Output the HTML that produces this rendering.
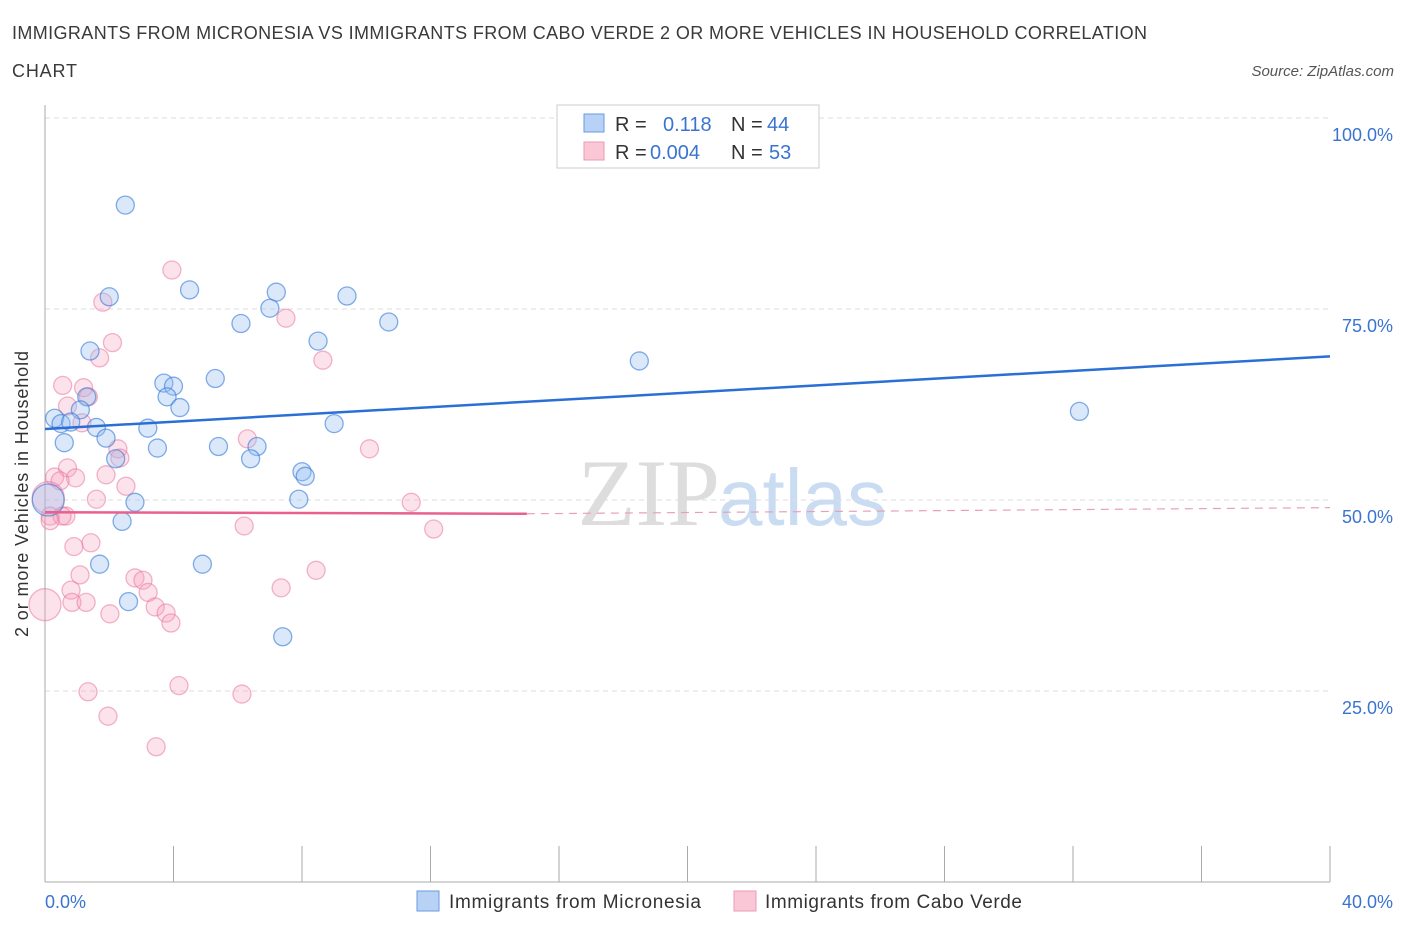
<!DOCTYPE html>
<html><head><meta charset="utf-8"><style>
body{margin:0;background:#fff;font-family:"Liberation Sans",sans-serif;}
</style></head><body>
<svg width="1406" height="930" xmlns="http://www.w3.org/2000/svg">
<text x="12" y="39" font-size="18" fill="#3a3a3a" textLength="1135">IMMIGRANTS FROM MICRONESIA VS IMMIGRANTS FROM CABO VERDE 2 OR MORE VEHICLES IN HOUSEHOLD CORRELATION</text>
<text x="12" y="77" font-size="18" fill="#3a3a3a" textLength="65">CHART</text>
<text x="1394" y="76" font-size="15" fill="#555" font-style="italic" text-anchor="end">Source: ZipAtlas.com</text>
<text x="720" y="525" font-size="95" fill="#ddd" text-anchor="end" font-family="Liberation Serif,serif">ZIP</text>
<text x="718" y="525" font-size="80" fill="#c9dcf2">atlas</text>
<g id="grid"></g>
<line x1="45" y1="105" x2="45" y2="882" stroke="#aaa"/>
<line x1="45" y1="882" x2="1330" y2="882" stroke="#aaa"/>
<g id="xt"></g>
<text x="28" y="494" font-size="18" fill="#333" text-anchor="middle" textLength="286" transform="rotate(-90 28 494)">2 or more Vehicles in Household</text>
<text x="45" y="908" font-size="18" fill="#3a74d0">0.0%</text>
<text x="1393" y="908" font-size="18" fill="#3a74d0" text-anchor="end">40.0%</text>
<g id="pts"></g>
<g id="lines"></g>
<g>
<rect x="557" y="105" width="262" height="63" fill="#fff" stroke="#ccc"/>
<rect x="584" y="114" width="20" height="18" fill="#b8d2f5" stroke="#6a9ae0"/>
<rect x="584" y="142" width="20" height="18" fill="#f9c7d6" stroke="#ee9ab4"/>
<text x="615" y="131" font-size="20" fill="#333">R =</text><text x="663" y="131" font-size="20" fill="#3a74d0">0.118</text>
<text x="731" y="131" font-size="20" fill="#333">N =</text><text x="767" y="131" font-size="20" fill="#3a74d0">44</text>
<text x="615" y="159" font-size="20" fill="#333">R =</text><text x="650" y="159" font-size="20" fill="#3a74d0">0.004</text>
<text x="731" y="159" font-size="20" fill="#333">N =</text><text x="769" y="159" font-size="20" fill="#3a74d0">53</text>
</g>
<g>
<rect x="417" y="891" width="22" height="20" fill="#b8d2f5" stroke="#6a9ae0"/>
<text x="449" y="908" font-size="19" fill="#333" textLength="252">Immigrants from Micronesia</text>
<rect x="734" y="891" width="22" height="20" fill="#f9c7d6" stroke="#ee9ab4"/>
<text x="765" y="908" font-size="19" fill="#333" textLength="257">Immigrants from Cabo Verde</text>
</g>
</svg>
<script>
const yTicks=[25,50,75,100];
const yTickLabels=["25.0%","50.0%","75.0%","100.0%"];
const xTicks=[0,4,8,12,16,20,24,28,32,36,40];
const blueX=[2.5,2.0,4.5,7.2,9.4,7.0,6.1,10.7,8.5,1.4,18.5,5.3,3.7,4.0,3.8,1.3,4.2,1.1,32.2,0.3,0.5,0.8,9.0,1.6,3.2,1.9,0.6,3.5,5.4,6.6,6.4,2.2,8.0,8.1,2.8,7.9,2.4,1.7,4.9,2.6,7.4,0.1];
const blueY=[88.6,76.6,77.5,77.2,76.7,75.1,73.1,73.3,70.8,69.5,68.2,65.9,65.3,64.9,63.5,63.5,62.1,61.8,61.6,60.7,60.0,60.2,60.0,59.5,59.4,58.1,57.5,56.8,57.0,57.0,55.4,55.4,53.7,53.1,49.7,50.1,47.2,41.6,41.6,36.7,32.1,50.0];
const pinkX=[3.95,1.8,7.5,2.1,1.7,8.65,0.55,1.2,1.35,0.7,1.15,10.1,6.3,2.27,2.33,0.7,1.9,0.3,0.95,0.47,2.52,1.6,11.4,0.16,0.65,0.53,6.2,12.1,0.16,1.43,0.9,8.44,2.8,1.09,3.05,0.81,3.21,7.35,0.84,1.28,3.43,3.77,3.92,2.02,1.34,4.17,6.13,1.96,3.46,0.0,0.1];
const pinkY=[80.1,75.9,73.8,70.6,68.6,68.3,65.0,64.7,63.5,62.3,60.1,56.7,58.0,56.7,55.5,54.2,53.3,53.0,52.9,52.5,51.8,50.1,49.7,47.9,47.9,47.9,46.6,46.2,47.3,44.4,43.9,40.8,39.8,40.2,39.5,38.2,37.9,38.5,36.6,36.6,36.0,35.2,33.9,35.1,24.9,25.7,24.6,21.7,17.7,36.3,50.3];
const blueR=[0,0,0,0,0,0,0,0,0,0,0,0,0,0,0,0,0,0,0,0,0,0,0,0,0,0,0,0,0,0,0,0,0,0,0,0,0,0,0,0,0,1];
const blueFit=[59.3,68.8];
const pinkFit=[48.4,48.2,49.0];
const NS="http://www.w3.org/2000/svg";
const X=v=>45+v*(1285/40), Y=v=>882-v*7.64;
function mk(t,a,p){const e=document.createElementNS(NS,t);for(const k in a)e.setAttribute(k,a[k]);document.getElementById(p).appendChild(e);return e;}
yTicks.forEach((t,i)=>{
 const g=mk('line',{x1:45,x2:1330,y1:Y(t),y2:Y(t),stroke:'#ddd','stroke-dasharray':'5,4'},'grid');
 
 
 const l=mk('text',{x:1393,y:Y(t)+23,'font-size':18,fill:'#3a74d0','text-anchor':'end'},'grid');l.textContent=yTickLabels[i];
 
 
});
xTicks.forEach(t=>{
 const e=mk('line',{x1:X(t),x2:X(t),y1:846,y2:882,stroke:'#aaa'},'xt');
 
 
});
pinkX.forEach((x,i)=>{
 const big=(i>=pinkX.length-2);
 const c=mk('circle',{cx:X(x),cy:Y(pinkY[i]),r:big?16:9,fill:'rgba(244,160,188,0.3)',stroke:'rgba(232,110,150,0.5)','stroke-width':1.3},'pts');
 
 
});
blueX.forEach((x,i)=>{
 const c=mk('circle',{cx:X(x),cy:Y(blueY[i]),r:blueR[i]?16:9,fill:'rgba(150,190,240,0.35)',stroke:'rgba(50,120,215,0.6)','stroke-width':1.3},'pts');
 
 
});
let l1=mk('line',{x1:X(0),y1:Y(blueFit[0]),x2:X(40),y2:Y(blueFit[1]),stroke:'#2a6fd6','stroke-width':2.5},'lines');


let l2=mk('line',{x1:X(0),y1:Y(pinkFit[0]),x2:X(15),y2:Y(pinkFit[1]),stroke:'#e8618c','stroke-width':2.5},'lines');


let l3=mk('line',{x1:X(15),y1:Y(pinkFit[1]),x2:X(40),y2:Y(pinkFit[2]),stroke:'#e8a0b8','stroke-width':1.2,'stroke-dasharray':'8,6'},'lines');


</script>
</body></html>
